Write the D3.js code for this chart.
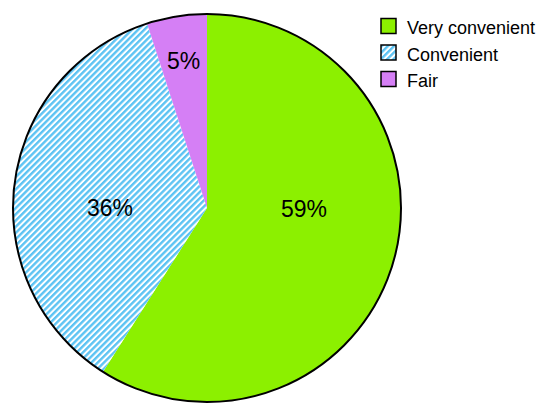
<!DOCTYPE html>
<html>
<head>
<meta charset="utf-8">
<script src="https://cdn.jsdelivr.net/npm/d3@7"></script>
<style>
  body { margin: 0; background: #fff; }
  text { font-family: "Liberation Sans", Arial, Helvetica, sans-serif; }
</style>
</head>
<body>
<div id="chart"></div>
<script>
var categories = ["Very convenient", "Convenient", "Fair"];
var values = [59, 36, 5];
var fills = ["#8cf000", "url(#hatch)", "#d57ff5"];

var width = 550, height = 418;
var cx = 207, cy = 208, radius = 194;

var svg = d3.select("#chart").append("svg")
    .attr("width", width)
    .attr("height", height);

// diagonal stripes for the "Convenient" slice
var pat = svg.append("defs").append("pattern")
    .attr("id", "hatch")
    .attr("patternUnits", "userSpaceOnUse")
    .attr("width", 4.4)
    .attr("height", 4.4)
    .attr("patternTransform", "rotate(45)");
pat.append("rect").attr("width", 4.4).attr("height", 4.4).attr("fill", "#fff");
pat.append("rect").attr("width", 2.4).attr("height", 4.4).attr("fill", "#5cc3f3");

var data = categories.map(function (c, i) { return { label: c, count: values[i], fill: fills[i] }; });

var pie = d3.pie().value(function (d) { return d.count; }).sort(null);
var arc = d3.arc().innerRadius(0).outerRadius(radius);
var arcs = pie(data);

var g = svg.append("g").attr("transform", "translate(" + cx + "," + cy + ")");

g.selectAll("path.slice")
    .data(arcs)
    .enter()
    .append("path")
    .attr("class", "slice")
    .attr("d", arc)
    .attr("fill", function (d) { return d.data.fill; });

g.append("circle")
    .attr("r", radius)
    .attr("fill", "none")
    .attr("stroke", "#000")
    .attr("stroke-width", 2);

// labels: slices covering 3 or 9 o'clock get a label on the horizontal axis,
// small ones sit along their mid angle, closer to the rim
g.selectAll("text.pct")
    .data(arcs)
    .enter()
    .append("text")
    .attr("class", "pct")
    .attr("text-anchor", "middle")
    .attr("dy", "0.35em")
    .attr("font-size", 23)
    .attr("transform", function (d) {
        var x, y;
        var right = d.startAngle <= Math.PI / 2 && d.endAngle >= Math.PI / 2;
        var left = d.startAngle <= 1.5 * Math.PI && d.endAngle >= 1.5 * Math.PI;
        if (right) { x = radius * 0.5; y = 1; }
        else if (left) { x = -radius * 0.5; y = 0; }
        else {
            var a = (d.startAngle + d.endAngle) / 2;
            x = Math.sin(a) * radius * 0.77;
            y = -Math.cos(a) * radius * 0.77;
        }
        return "translate(" + x + "," + y + ")";
    })
    .text(function (d) { return d.data.count + "%"; });

var legendRectSize = 15;
var legendSpacing = 26.5;
var legend = svg.selectAll(".legend")
    .data(data)
    .enter()
    .append("g")
    .attr("class", "legend")
    .attr("transform", function (d, i) {
        return "translate(381," + (18.5 + i * legendSpacing) + ")";
    });
legend.append("rect")
    .attr("width", legendRectSize)
    .attr("height", legendRectSize)
    .attr("fill", function (d) { return d.fill; })
    .attr("stroke", "#000")
    .attr("stroke-width", 1.5);
legend.append("text")
    .attr("x", 26)
    .attr("y", 15.5)
    .attr("font-size", 18)
    .text(function (d) { return d.label; });
</script>
</body>
</html>
